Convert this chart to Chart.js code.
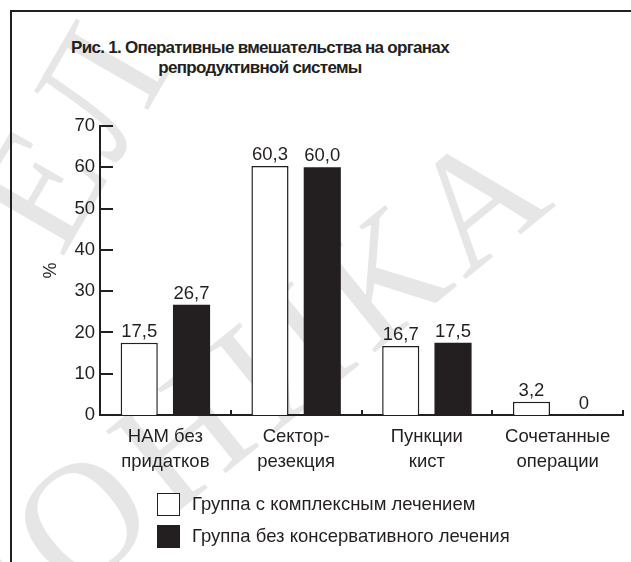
<!DOCTYPE html>
<html>
<head>
<meta charset="utf-8">
<script src="https://cdn.jsdelivr.net/npm/chart.js@4.4.1/dist/chart.umd.min.js"></script>
<style>
  html,body{margin:0;padding:0;background:#fff;}
  body{width:631px;height:562px;position:relative;overflow:hidden;font-family:"Liberation Sans",Arial,sans-serif;color:#231f20;}
  .wm{position:absolute;color:#e6e6e6;font-family:"Liberation Serif","DejaVu Serif",serif;font-size:165px;line-height:1;letter-spacing:10px;white-space:nowrap;transform-origin:0 100%;}
  .frame{position:absolute;left:10px;top:10px;right:-5px;bottom:-5px;border-top:2px solid #231f20;border-left:2px solid #231f20;}
  .title{position:absolute;left:40px;width:440px;top:38px;text-align:center;font-weight:bold;font-size:17px;line-height:20px;letter-spacing:-0.7px;}
  #wrap{position:absolute;left:0;top:0;width:631px;height:562px;}
  .legend{position:absolute;left:157px;top:493px;font-size:18.5px;}
  .legend div{height:32px;display:flex;align-items:flex-start;}
  .legend span.box{display:inline-block;width:21px;height:21px;border:1.5px solid #231f20;margin-right:12px;}
</style>
</head>
<body>
<div class="wm" style="left:-35px;top:554px;transform:rotate(-39deg);">МОНИКА</div>
<div class="wm" style="left:85px;top:108px;transform:rotate(-60deg);">ЕЛ</div>
<div class="frame"></div>
<div class="title">Рис. 1. Оперативные вмешательства на органах<br>репродуктивной системы</div>
<div id="wrap"><canvas id="c"></canvas></div>
<div class="legend" id="legend"></div>
<script>
/* ---------- данные ---------- */
const categories = [['НАМ без','придатков'],['Сектор-','резекция'],['Пункции','кист'],['Сочетанные','операции']];
const seriesNames = ['Группа с комплексным лечением','Группа без консервативного лечения'];
const complexTx   = [17.5, 60.3, 16.7, 3.2];
const noConservTx = [26.7, 60.0, 17.5, 0];
const yTicks = [0,10,20,30,40,50,60,70];

const INK = '#231f20';
const FONT = '"Liberation Sans", Arial, sans-serif';
const fmtVal = v => v === 0 ? '0' : v.toFixed(1).replace('.', ',');

/* ---------- внутренние засечки + подписи значений ---------- */
const marks = {
  id:'marks',
  afterDraw(ch){
    const c = ch.ctx, x = ch.scales.x, y = ch.scales.y;
    c.save();
    c.strokeStyle = INK; c.lineWidth = 2;
    yTicks.forEach(t=>{
      const py = Math.round(y.getPixelForValue(t));
      c.beginPath(); c.moveTo(x.left, py); c.lineTo(x.left+13, py); c.stroke();
    });
    for(let i=1;i<=categories.length;i++){
      const px = Math.round(x.left + (x.right-x.left)*i/categories.length);
      c.beginPath(); c.moveTo(px, y.bottom); c.lineTo(px, y.bottom-5); c.stroke();
    }
    c.fillStyle = INK; c.font = '18.5px ' + FONT;
    c.textAlign = 'center'; c.textBaseline = 'bottom';
    ch.data.datasets.forEach((ds,di)=>{
      ch.getDatasetMeta(di).data.forEach((bar,i)=>{
        c.fillText(fmtVal(ds.data[i]), bar.x, bar.y - 2);
      });
    });
    c.restore();
  }
};

const chart = new Chart(document.getElementById('c'), {
  type:'bar',
  data:{
    labels:categories,
    datasets:[
      {label:seriesNames[0], data:complexTx,   backgroundColor:'#ffffff', borderColor:INK, borderWidth:1.5},
      {label:seriesNames[1], data:noConservTx, backgroundColor:INK,       borderColor:INK, borderWidth:0}
    ]
  },
  options:{
    responsive:true, maintainAspectRatio:false, animation:false,
    categoryPercentage:0.8, barPercentage:0.71,
    layout:{padding:{left:40,right:8,top:126,bottom:87}},
    plugins:{legend:{display:false}, tooltip:{enabled:false}},
    scales:{
      x:{
        grid:{display:false, drawTicks:false},
        border:{display:true, color:INK, width:2},
        ticks:{color:INK, padding:9, maxRotation:0, autoSkip:false, font:{size:18.5, family:FONT, lineHeight:1.35}},
        afterFit:s=>{ s.height = 60; }
      },
      y:{
        min:0, max:70,
        title:{display:true, text:'%', color:INK, font:{size:18, family:FONT}, padding:{top:0,bottom:12}},
        grid:{display:false, drawTicks:false},
        border:{display:true, color:INK, width:2},
        afterBuildTicks:s=>{ s.ticks = yTicks.map(v=>({value:v})); },
        ticks:{color:INK, padding:5, font:{size:18.5, family:FONT}},
        afterFit:s=>{ s.width = 60; }
      }
    }
  },
  plugins:[marks]
});

/* ---------- легенда ---------- */
document.getElementById('legend').innerHTML = chart.data.datasets.map(ds =>
  `<div><span class="box" style="background:${ds.backgroundColor}"></span>${ds.label}</div>`).join('');
</script>
</body>
</html>
